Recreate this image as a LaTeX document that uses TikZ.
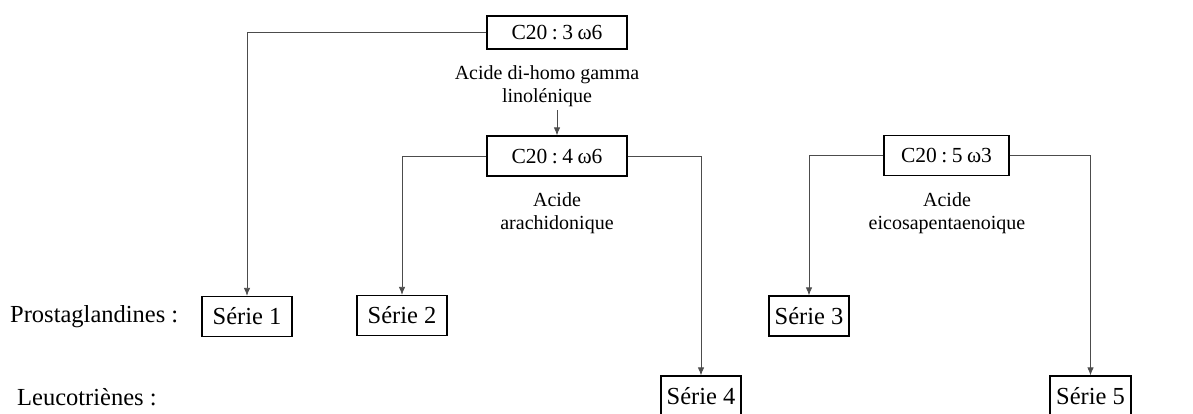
\documentclass[tikz,border=0pt]{standalone}
\usepackage{fontspec}
\setmainfont{Liberation Serif}
\usetikzlibrary{positioning, arrows.meta}
\newcommand\gapsp{\hspace{4.5pt}}

\begin{document}
\begin{tikzpicture}[
    x=1pt, y=-1pt,
    >={Latex[length=8pt, width=6.5pt]},
    every node/.style={font=\fontsize{24.5}{28}\selectfont},
    acidBox/.style={draw, line width=1.3pt, minimum width=140, minimum height=40, inner sep=0,
      font=\fontsize{21.5}{26}\selectfont},
    serieBox/.style={draw, line width=1.3pt, minimum width=90, minimum height=40, inner sep=0},
    acidName/.style={align=center, font=\fontsize{20}{23}\selectfont},
    link/.style={draw=black!70, line width=0.8pt, ->},
  ]
  \clip (0,0) rectangle (1193,413);
  % acids
  \node[acidBox, minimum height=33] (c203) at (557,32.5) {C20\gapsp:\gapsp3\gapsp{}ω6};
  \node[acidName] (dgla) at (547,86) {Acide di-homo gamma\\linolénique};
  \node[acidBox] (c204) at (557,156) {C20\gapsp:\gapsp4\gapsp{}ω6};
  \node[acidName] (aa) at (557,213) {Acide\\arachidonique};
  \node[acidBox, minimum width=125] (c205) at (946.5,155.5) {C20\gapsp:\gapsp5\gapsp{}ω3};
  \node[acidName] (epa) at (947,213) {Acide\\eicosapentaenoique};
  % series
  \node[anchor=west, inner sep=0] (prosta) at (10,317) {Prostaglandines :};
  \node[anchor=west, inner sep=0] (leuco) at (17,397) {Leucotriènes :};
  \node[serieBox] (s1) at (247,316.5) {Série 1};
  \node[serieBox] (s2) at (402,315.5) {Série 2};
  \node[serieBox, minimum width=80] (s3) at (809,316) {Série 3};
  \node[serieBox, minimum width=80] (s4) at (701,396) {Série 4};
  \node[serieBox, minimum width=81] (s5) at (1090.5,396) {Série 5};
  % lines
  \draw[link] (c203.west) -| (s1.north);
  \draw[link] (dgla.south -| c204.north) -- (c204.north);
  \draw[link] (c204.west) -| (s2.north);
  \draw[link] (c204.east) -| (s4.north);
  \draw[link] (c205.west) -| (s3.north);
  \draw[link] (c205.east) -| (s5.north);
\end{tikzpicture}
\end{document}
